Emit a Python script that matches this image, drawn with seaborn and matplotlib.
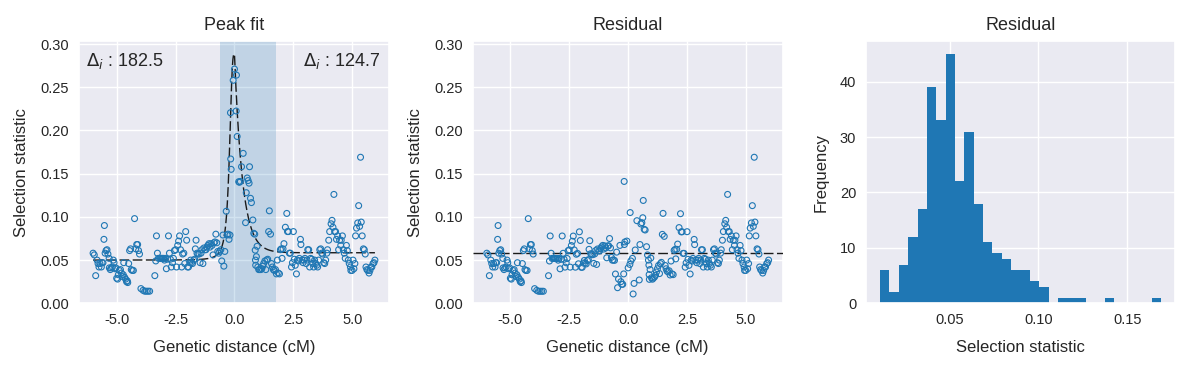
import numpy as np
import matplotlib
matplotlib.use("Agg")
import matplotlib.pyplot as plt
from matplotlib.ticker import MultipleLocator, FormatStrFormatter
import seaborn as sns

# ---------------- data ----------------
dist_cm = [
    -6.00, -5.95, -5.89, -5.83, -5.79, -5.75, -5.71, -5.65, -5.62, -5.58, -5.54, -5.52, -5.49,
    -5.45, -5.41, -5.37, -5.32, -5.31, -5.27, -5.23, -5.18, -5.14, -5.11, -5.07, -5.03,
    -5.00, -4.96, -4.93, -4.89, -4.84, -4.80, -4.76, -4.72, -4.70, -4.66, -4.62, -4.58, -4.55, -4.53,
    -4.49, -4.45, -4.41, -4.38, -4.34, -4.29, -4.24, -4.19, -4.15, -4.11, -4.07, -4.03,
    -3.97, -3.88, -3.81, -3.74, -3.67, -3.60,
    -3.38, -3.34, -3.31, -3.27, -3.23, -3.18, -3.14, -3.10, -3.06,
    -3.01, -2.97, -2.93, -2.89, -2.84, -2.80, -2.76, -2.72, -2.68, -2.63, -2.59, -2.55,
    -2.50, -2.46, -2.41, -2.37, -2.33, -2.29, -2.24, -2.20, -2.15, -2.11, -2.07, -2.03,
    -1.99, -1.95, -1.90, -1.86, -1.82, -1.78, -1.73, -1.69, -1.66, -1.63, -1.59, -1.55,
    -1.50, -1.46, -1.42, -1.38, -1.34, -1.30, -1.25, -1.21, -1.17, -1.13, -1.08, -1.04,
    -0.99, -0.95, -0.91, -0.87, -0.83, -0.79, -0.75, -0.71, -0.67, -0.63, -0.58, -0.54,
    -0.49, -0.45, -0.41,
    -0.35, -0.31, -0.27, -0.23, -0.19, -0.17, -0.16, -0.14, -0.055, 0.00,
    0.072, 0.085, 0.114, 0.18, 0.21, 0.25, 0.30, 0.37, 0.47, 0.50,
    0.54, 0.58, 0.62, 0.64, 0.68, 0.72, 0.78, 0.82, 0.86,
    0.88, 0.89, 0.90, 0.93, 0.96, 0.99, 1.03, 1.07, 1.12, 1.16, 1.20, 1.24, 1.29, 1.33, 1.37,
    1.41, 1.45, 1.48,
    1.53, 1.57, 1.61, 1.65, 1.69, 1.74, 1.78, 1.82, 1.86, 1.91, 1.95, 1.99,
    2.02, 2.06, 2.10, 2.16, 2.22, 2.25, 2.29, 2.33, 2.37, 2.42, 2.46, 2.50,
    2.54, 2.58, 2.63, 2.67, 2.71, 2.75, 2.80, 2.82, 2.87, 2.91, 2.95, 2.99,
    3.04, 3.08, 3.11, 3.15, 3.19, 3.23, 3.28, 3.32, 3.36, 3.40, 3.45, 3.49,
    3.53, 3.57, 3.62, 3.66, 3.70, 3.74, 3.79, 3.83, 3.87, 3.92, 3.95, 4.00,
    4.04, 4.10, 4.14, 4.18, 4.22, 4.25, 4.29, 4.33, 4.38, 4.42, 4.46, 4.51,
    4.53, 4.58, 4.62, 4.66, 4.70, 4.75, 4.79, 4.83, 4.87, 4.92, 4.94, 4.99,
    5.03, 5.07, 5.11, 5.14, 5.18, 5.23, 5.27, 5.31, 5.35, 5.38, 5.42, 5.47,
    5.51, 5.55, 5.58, 5.62, 5.66, 5.71, 5.75, 5.79, 5.83, 5.88, 5.92, 5.96,
]

sel_stat = [
    0.058, 0.056, 0.032, 0.050, 0.046, 0.042, 0.046, 0.042, 0.047, 0.047, 0.074, 0.090, 0.058,
    0.061, 0.062, 0.057, 0.052, 0.041, 0.039, 0.041, 0.042, 0.050, 0.047, 0.040, 0.041,
    0.029, 0.028, 0.033, 0.038, 0.039, 0.035, 0.031, 0.033, 0.047, 0.030, 0.028, 0.025, 0.026, 0.024,
    0.046, 0.061, 0.063, 0.039, 0.038, 0.038, 0.098, 0.063, 0.068, 0.068, 0.061, 0.057,
    0.017, 0.015, 0.014, 0.014, 0.014, 0.014,
    0.032, 0.049, 0.078, 0.058, 0.052, 0.052, 0.052, 0.052, 0.052,
    0.052, 0.050, 0.052, 0.040, 0.051, 0.078, 0.058, 0.051, 0.042, 0.047, 0.052, 0.061,
    0.062, 0.042, 0.067, 0.072, 0.078, 0.062, 0.042, 0.057, 0.058, 0.046, 0.083, 0.073,
    0.042, 0.042, 0.047, 0.050, 0.047, 0.046, 0.050, 0.051, 0.063, 0.073, 0.058, 0.057,
    0.057, 0.047, 0.058, 0.062, 0.046, 0.064, 0.062, 0.062, 0.065, 0.067, 0.069, 0.065,
    0.069, 0.067, 0.056, 0.070, 0.071, 0.080, 0.070, 0.060, 0.058, 0.060, 0.062, 0.049,
    0.079, 0.043, 0.060,
    0.1065, 0.079, 0.080, 0.074, 0.079, 0.2205, 0.167, 0.155, 0.258, 0.271,
    0.2225, 0.264, 0.193, 0.1407, 0.140, 0.141, 0.158, 0.1735, 0.0933, 0.128,
    0.145, 0.142, 0.139, 0.158, 0.1215, 0.1165, 0.0964, 0.081, 0.080,
    0.0615, 0.050, 0.044, 0.054, 0.066, 0.042, 0.039, 0.039, 0.039, 0.040, 0.043, 0.046, 0.049,
    0.039, 0.050, 0.051, 0.083, 0.107,
    0.080, 0.046, 0.042, 0.039, 0.038, 0.039, 0.034, 0.050, 0.035, 0.034, 0.062, 0.063,
    0.052, 0.063, 0.069, 0.088, 0.104, 0.083, 0.083, 0.058, 0.058, 0.042, 0.047, 0.083,
    0.051, 0.044, 0.034, 0.050, 0.049, 0.052, 0.074, 0.068, 0.050, 0.047, 0.050, 0.052,
    0.046, 0.050, 0.062, 0.062, 0.042, 0.052, 0.051, 0.046, 0.042, 0.050, 0.046, 0.044,
    0.042, 0.050, 0.062, 0.063, 0.058, 0.057, 0.047, 0.046, 0.050, 0.058, 0.062, 0.073,
    0.083, 0.092, 0.096, 0.088, 0.126, 0.083, 0.083, 0.074, 0.078, 0.062, 0.073, 0.067,
    0.073, 0.078, 0.062, 0.058, 0.052, 0.067, 0.061, 0.050, 0.046, 0.042, 0.038, 0.038,
    0.050, 0.040, 0.046, 0.078, 0.087, 0.093, 0.113, 0.089, 0.169, 0.094, 0.078, 0.063,
    0.062, 0.057, 0.042, 0.039, 0.038, 0.035, 0.038, 0.042, 0.042, 0.046, 0.047, 0.050,
]

# residuals for the points inside the peak core
core_lo, core_hi = -0.36, 0.87
core_resid = [
    0.067, 0.025, 0.022, 0.022, 0.034, 0.141, 0.068, 0.071, 0.072, 0.041,
    0.045, 0.105, 0.049, 0.052, 0.0108, 0.023, 0.0617, 0.0956, 0.027, 0.068,
    0.0918, 0.0933, 0.099, 0.119, 0.0856, 0.0848, 0.0655, 0.056, 0.050,
]

# fitted peak model parameters
base_left = 0.050
base_right = 0.0585
peak_top = 0.2885
left_width = 0.22
left_power = 3.0
right_decay = 0.34
delta_left, delta_right = 182.5, 124.7
window_lo, window_hi = -0.61, 1.77

# ---------------- derived series ----------------
x = np.asarray(dist_cm, float)
y = np.asarray(sel_stat, float)


def peak_component(t):
    t = np.asarray(t, float)
    left = (peak_top - base_left) / (1.0 + (np.abs(t) / left_width) ** left_power)
    right = (peak_top - base_right) * np.exp(-np.abs(t) / right_decay)
    return np.where(t < 0, left, right)


def baseline(t):
    return np.where(np.asarray(t) < 0, base_left, base_right)


resid = y - peak_component(x)
core_idx = np.where((x >= core_lo) & (x <= core_hi))[0]
n = min(len(core_idx), len(core_resid))
resid[core_idx[:n]] = np.asarray(core_resid[:n])

x_fit = np.linspace(x.min(), x.max(), 2000)
y_fit = baseline(x_fit) + peak_component(x_fit)

# ---------------- style ----------------
sns.set_theme(style="darkgrid")
plt.rcParams["font.family"] = ["Liberation Sans", "DejaVu Sans"]
plt.rcParams["text.color"] = ".15"
plt.rcParams["axes.labelcolor"] = ".15"

fig = plt.figure(figsize=(11.91, 3.68), dpi=100)
W, H = 1191.0, 368.0
ax_b = (H - 303.3) / H
ax_h = 261.8 / H
ax1 = fig.add_axes([79 / W, ax_b, 310 / W, ax_h])
ax2 = fig.add_axes([472.7 / W, ax_b, 310 / W, ax_h])
ax3 = fig.add_axes([866 / W, ax_b, 309 / W, ax_h])

blue = "#1f77b4"
dash = (0, (7, 2.5))
title_fs, label_fs, tick_fs = 13, 12, 10.5
ytop = 1.05 * peak_top

# ---- panel 1: peak fit ----
ax1.axvspan(window_lo, window_hi, color=blue, alpha=0.2, lw=0)
ax1.plot(x_fit, y_fit, color="k", lw=1.0, linestyle=dash, zorder=3)
sns.scatterplot(x=x, y=y, ax=ax1, marker="o", s=18, facecolors="none",
                edgecolors=blue, linewidth=0.8, zorder=4)
ax1.set_ylim(0, ytop)
ax1.set_title("Peak fit", fontsize=title_fs, pad=8)
ax1.text(0.023, 0.962, r"$\Delta_i$ : " + f"{delta_left:.1f}", transform=ax1.transAxes,
         ha="left", va="top", fontsize=13)
ax1.text(0.972, 0.962, r"$\Delta_i$ : " + f"{delta_right:.1f}", transform=ax1.transAxes,
         ha="right", va="top", fontsize=13)

# ---- panel 2: residual ----
ax2.axhline(base_right, color="k", lw=1.0, linestyle=dash, zorder=3)
sns.scatterplot(x=x, y=resid, ax=ax2, marker="o", s=18, facecolors="none",
                edgecolors=blue, linewidth=0.8, zorder=4)
ax2.set_xlim(ax1.get_xlim())
ax2.set_ylim(0, ytop)
ax2.set_title("Residual", fontsize=title_fs, pad=8)

for ax in (ax1, ax2):
    ax.set_xlabel("Genetic distance (cM)", fontsize=label_fs, labelpad=9)
    ax.set_ylabel("Selection statistic", fontsize=label_fs, labelpad=8)
    ax.xaxis.set_major_locator(MultipleLocator(2.5))
    ax.xaxis.set_major_formatter(FormatStrFormatter("%.1f"))
    ax.yaxis.set_major_locator(MultipleLocator(0.05))
    ax.yaxis.set_major_formatter(FormatStrFormatter("%.2f"))

# ---- panel 3: histogram of residuals ----
sns.histplot(x=resid, bins=30, ax=ax3, color=blue, alpha=1.0, linewidth=0)
ax3.set_title("Residual", fontsize=title_fs, pad=8)
ax3.set_xlabel("Selection statistic", fontsize=label_fs, labelpad=9)
ax3.set_ylabel("Frequency", fontsize=label_fs, labelpad=8)
ax3.xaxis.set_major_locator(MultipleLocator(0.05))
ax3.xaxis.set_major_formatter(FormatStrFormatter("%.2f"))
ax3.yaxis.set_major_locator(MultipleLocator(10))

for ax in (ax1, ax2, ax3):
    ax.tick_params(axis="both", labelsize=tick_fs, length=0, pad=7)

fig.savefig("out.png", dpi=100)
